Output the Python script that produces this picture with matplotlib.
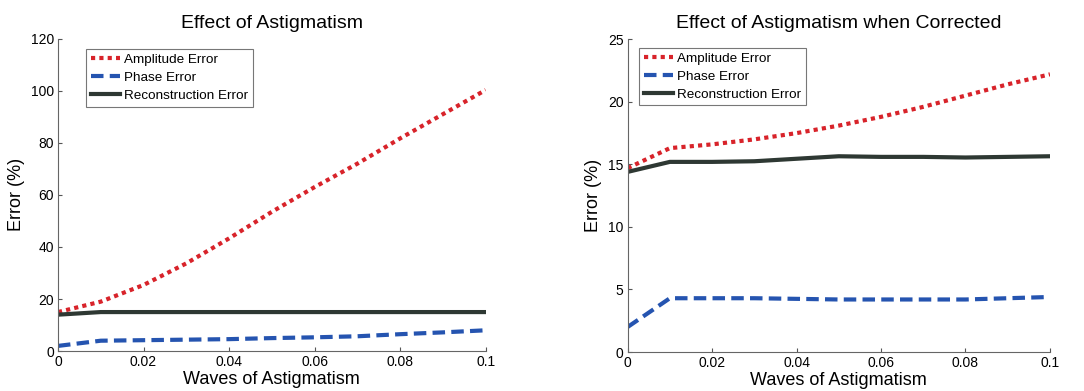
import matplotlib
matplotlib.use("Agg")
import matplotlib.pyplot as plt

plt.rcParams.update({
    "font.family": ["Liberation Sans", "DejaVu Sans"],
    "xtick.direction": "in",
    "ytick.direction": "in",
    "axes.spines.top": False,
    "axes.spines.right": False,
})

RED = "#d8232a"
BLUE = "#2554b0"
DARK = "#2e3833"

waves = [0, 0.01, 0.02, 0.03, 0.04, 0.05, 0.06, 0.07, 0.08, 0.09, 0.1]

# uncorrected
amp_raw = [15, 19, 25.4, 33.7, 43.3, 53.5, 63, 72, 81.7, 91, 100.3]
phase_raw = [2, 4, 4.2, 4.4, 4.6, 5.0, 5.3, 5.7, 6.5, 7.2, 8]
recon_raw = [14, 15, 15, 15, 15, 15, 15, 15, 15, 15, 15]

# corrected
amp_cor = [14.7, 16.3, 16.6, 17.0, 17.5, 18.1, 18.8, 19.6, 20.5, 21.4, 22.2]
phase_cor = [2.0, 4.3, 4.3, 4.3, 4.25, 4.2, 4.2, 4.2, 4.2, 4.3, 4.4]
recon_cor = [14.4, 15.2, 15.2, 15.25, 15.45, 15.65, 15.6, 15.6, 15.55, 15.6, 15.65]

fig = plt.figure(figsize=(10.84, 3.91), dpi=100)
ax1 = fig.add_axes([0.0535, 0.102, 0.3945, 0.799])
ax2 = fig.add_axes([0.579, 0.0997, 0.3896, 0.7998])


def draw(ax, amp, phase, recon, ymax, yticks, title, leg_xy):
    ax.plot(waves, amp, color=RED, lw=3, ls=(0, (1, 1)), label="Amplitude Error")
    ax.plot(waves, phase, color=BLUE, lw=3, ls=(0, (3, 1.5)), label="Phase Error")
    ax.plot(waves, recon, color=DARK, lw=3, label="Reconstruction Error")
    ax.set_xlim(0, 0.1)
    ax.set_ylim(0, ymax)
    ax.set_xticks([0, 0.02, 0.04, 0.06, 0.08, 0.1])
    ax.set_xticklabels(["0", "0.02", "0.04", "0.06", "0.08", "0.1"])
    ax.set_yticks(yticks)
    ax.tick_params(labelsize=10, length=3, color="#555555", pad=3)
    for s in ("left", "bottom"):
        ax.spines[s].set_color("#666666")
    ax.set_xlabel("Waves of Astigmatism", fontsize=13, labelpad=1)
    ax.set_ylabel("Error (%)", fontsize=13)
    ax.set_title(title, fontsize=14, pad=8)
    leg = ax.legend(loc="upper left", fontsize=9.7, handlelength=2.2,
                    handletextpad=0.3, borderpad=0.35, labelspacing=0.4,
                    fancybox=False, edgecolor="#555555",
                    bbox_to_anchor=leg_xy, borderaxespad=0)
    leg.get_frame().set_linewidth(0.8)


draw(ax1, amp_raw, phase_raw, recon_raw, 120, range(0, 121, 20),
     "Effect of Astigmatism", (0.065, 0.967))
draw(ax2, amp_cor, phase_cor, recon_cor, 25, range(0, 26, 5),
     "Effect of Astigmatism when Corrected", (0.027, 0.973))

plt.savefig("out.png", dpi=100)
